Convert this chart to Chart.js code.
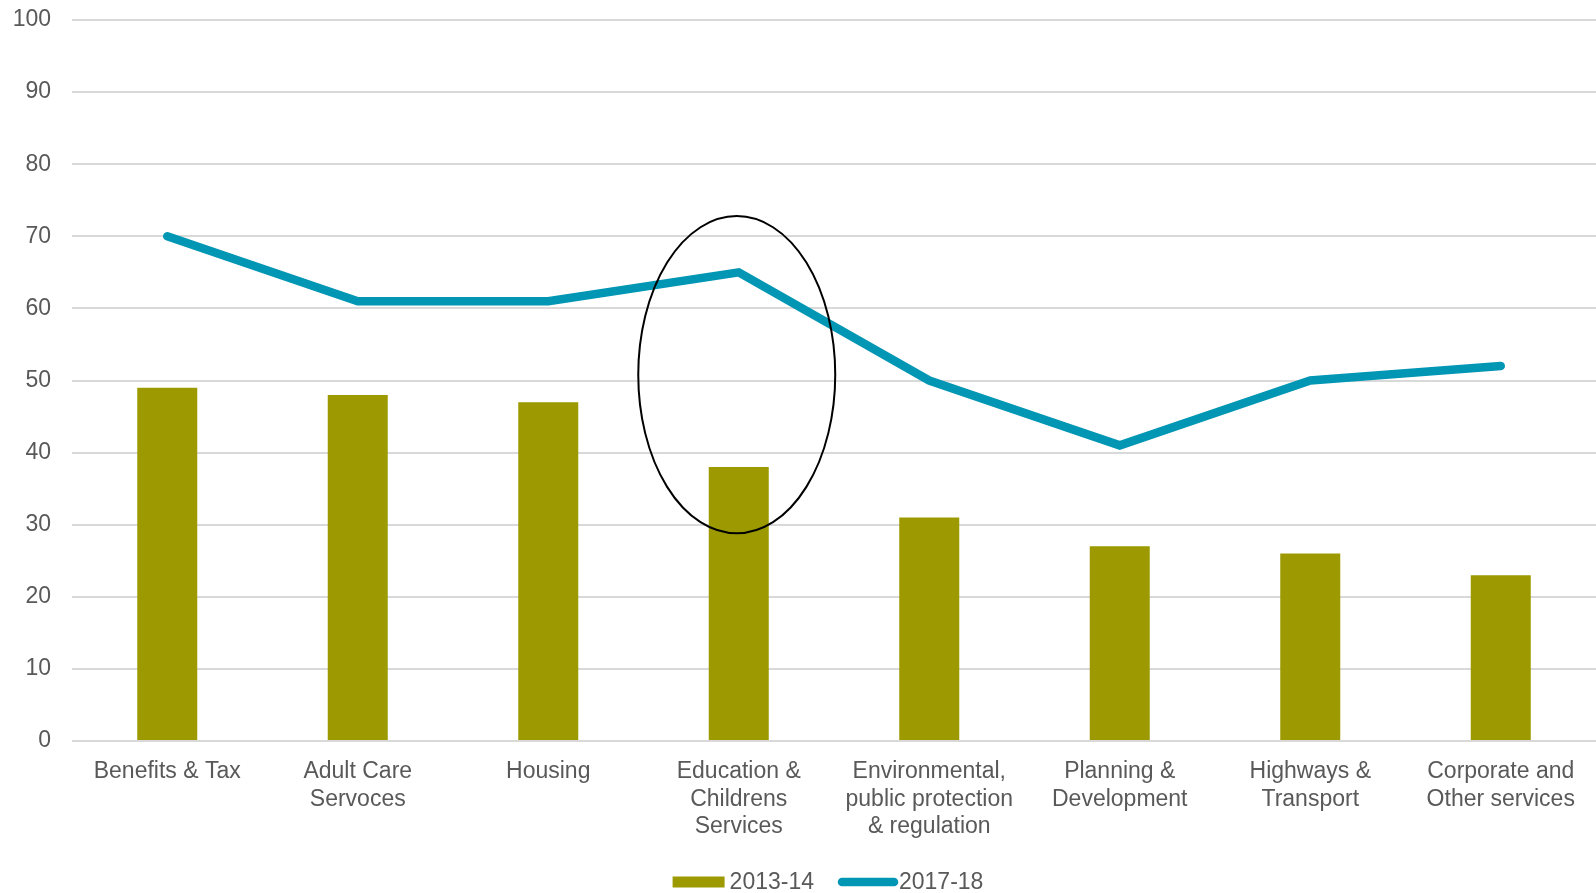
<!DOCTYPE html>
<html>
<head>
<meta charset="utf-8">
<script src="https://cdn.jsdelivr.net/npm/chart.js@4/dist/chart.umd.min.js"></script>
<style>
  html,body{margin:0;padding:0;background:#fff;}
  #wrap{width:1596px;height:893px;position:relative;}
</style>
</head>
<body>
<div id="wrap"><canvas id="myChart"></canvas></div>
<script>
// categories (multi-line tick labels)
const categories=[
    ['Benefits & Tax'],
    ['Adult Care','Servoces'],
    ['Housing'],
    ['Education &','Childrens','Services'],
    ['Environmental,','public protection','& regulation'],
    ['Planning &','Development'],
    ['Highways &','Transport'],
    ['Corporate and','Other services']
];
const values2013=[49,48,47,38,31,27,26,23];
const values2017=[70,61,61,65,50,41,50,52];
const yTicks=[0,10,20,30,40,50,60,70,80,90,100];
const seriesNames=['2013-14','2017-18'];

// ellipse note around Education (category index, value centre, half height in value units)
const noteCategory=3, noteCentre=50.8, noteHalfHeight=22;

const olive='#9c9a00', teal='#0096b4', textGrey='#595959';
const fontFamily="'Liberation Sans', Arial, sans-serif";

const ellipseNote={
    id:'ellipseNote',
    afterDraw(chart){
        const x=chart.scales.x, y=chart.scales.y, ctx=chart.ctx;
        const cx=x.getPixelForValue(noteCategory)-2;
        const cy=y.getPixelForValue(noteCentre);
        const ry=Math.abs(y.getPixelForValue(noteCentre+noteHalfHeight)-cy);
        const step=x.getPixelForValue(1)-x.getPixelForValue(0);
        ctx.save();
        ctx.beginPath();
        ctx.ellipse(cx,cy,step*0.517,ry,0,0,Math.PI*2);
        ctx.lineWidth=2;
        ctx.strokeStyle='#000';
        ctx.stroke();
        ctx.restore();
    }
};

// legend drawn by hand so the box/text spacing follows the original
const bottomLegend={
    id:'bottomLegend',
    afterDraw(chart){
        const ctx=chart.ctx;
        ctx.save();
        ctx.font="23px "+fontFamily;
        ctx.textBaseline='middle';
        ctx.fillStyle=textGrey;
        const boxW=52, gap=5, itemGap=24;
        const w0=ctx.measureText(seriesNames[0]).width, w1=ctx.measureText(seriesNames[1]).width;
        const total=boxW+gap+w0+itemGap+60+1+w1;
        let x=chart.width/2+30-total/2;
        const y=chart.height-11;
        ctx.fillStyle=olive;
        ctx.fillRect(x,y-5.5,boxW,11);
        x+=boxW+gap;
        ctx.fillStyle=textGrey;
        ctx.fillText(seriesNames[0],x,y+1);
        x+=w0+itemGap;
        ctx.strokeStyle=teal;
        ctx.lineWidth=8.5;
        ctx.lineCap='round';
        ctx.beginPath();
        ctx.moveTo(x+4,y);
        ctx.lineTo(x+56,y);
        ctx.stroke();
        x+=61;
        ctx.fillText(seriesNames[1],x,y+1);
        ctx.restore();
    }
};

Chart.defaults.font.family=fontFamily;
Chart.defaults.color=textGrey;

let ctx=document.getElementById('myChart').getContext('2d');
let myChart=new Chart(ctx,{
    type:'bar',
    data:{
        labels:categories,
        datasets:[{
            type:'bar',
            label:seriesNames[0],
            data:values2013,
            backgroundColor:olive,
            barPercentage:0.315,
            categoryPercentage:1,
            order:1
        },{
            type:'line',
            label:seriesNames[1],
            data:values2017,
            borderColor:teal,
            backgroundColor:teal,
            borderWidth:8.5,
            borderCapStyle:'round',
            borderJoinStyle:'miter',
            pointRadius:0,
            tension:0,
            order:0
        }]
    },
    options:{
        responsive:true,
        maintainAspectRatio:false,
        animation:false,
        layout:{padding:{top:20,right:0,left:0,bottom:48}},
        plugins:{
            tooltip:{enabled:false},
            legend:{display:false}
        },
        scales:{
            x:{
                grid:{display:false},
                border:{display:false},
                ticks:{
                    font:{size:23,lineHeight:1.2},
                    color:textGrey,
                    maxRotation:0,
                    autoSkip:false,
                    padding:9
                },
                afterFit:scale=>{scale.height=104;scale.paddingLeft=0;scale.paddingRight=0;}
            },
            y:{
                min:0,
                max:100,
                afterBuildTicks:scale=>{scale.ticks=yTicks.map(v=>({value:v}));},
                grid:{color:'#d9d9d9',lineWidth:2,drawTicks:false},
                border:{display:false},
                ticks:{font:{size:23},color:textGrey,padding:21},
                afterFit:scale=>{scale.width=72;scale.paddingTop=0;scale.paddingBottom=0;}
            }
        }
    },
    plugins:[ellipseNote,bottomLegend]
});
</script>
</body>
</html>
